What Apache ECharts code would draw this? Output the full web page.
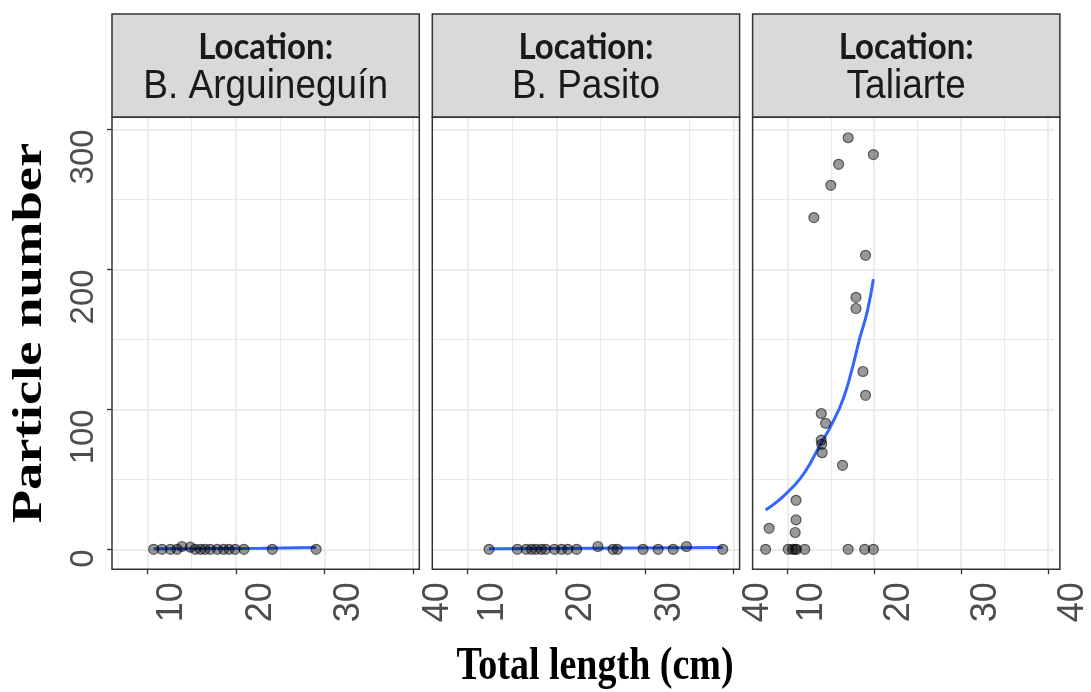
<!DOCTYPE html>
<html>
<head>
<meta charset="utf-8">
<script src="https://cdn.jsdelivr.net/npm/echarts@6/dist/echarts.min.js"></script>
<style>html,body{margin:0;padding:0;background:#fff;}#chart{width:1091px;height:692px;}</style>
</head>
<body>
<div id="chart"></div>
<script>
// ---- data ----
const locations = ['B. Arguineguín', 'B. Pasito', 'Taliarte'];
const stripLabel = 'Location:';
const xTitle = 'Total length (cm)';
const yTitle = 'Particle number';
const xTicks = [10, 20, 30, 40];
const xMinor = [15, 25, 35];
const yTicks = [0, 100, 200, 300];
const yMinor = [50, 150, 250];

const arguinX = [10.7, 11.65, 12.6, 13.35, 13.9, 14.85, 15.4, 16.0, 16.5, 17.1, 17.9, 18.6, 19.2, 19.9, 20.9, 24.1, 29.05];
const arguinY = [0, 0, 0, 0, 2, 1.5, 0, 0, 0, 0, 0, 0, 0, 0, 0, 0, 0];
const arguinFitX = [10.7, 17, 23, 29.05];
const arguinFitY = [0.3, 0.5, 0.8, 1.2];

const pasitoX = [12.4, 15.6, 16.6, 17.2, 17.7, 18.3, 18.8, 19.8, 20.6, 21.3, 22.3, 24.7, 26.4, 26.9, 29.8, 31.5, 33.2, 34.7, 38.8];
const pasitoY = [0, 0, 0, 0, 0, 0, 0, 0, 0, 0, 0, 2, 0, 0, 0, 0, 0, 2, 0];
const pasitoFitX = [12.4, 20, 28, 38.8];
const pasitoFitY = [0.3, 0.6, 0.9, 1.3];

const taliarteX = [17.0, 19.9, 15.9, 15.0, 13.05, 19.0, 17.9, 17.9, 18.7, 19.0, 13.9, 14.4, 13.9, 13.95, 14.0, 16.35, 11.0, 11.0, 7.9, 10.9,
                   7.5, 10.1, 10.6, 10.9, 11.05, 12.0, 17.0, 18.9, 19.9];
const taliarteY = [294, 282, 275, 260, 237, 210, 180, 172, 127, 110, 97, 90, 78, 75, 69, 60, 35, 21, 15, 12,
                   0, 0, 0, 0, 0, 0, 0, 0, 0];
const taliarteFitX = [7.5, 9, 10.4, 12, 13.9, 15, 16.4, 17.5, 18.3, 19.2, 19.9];
const taliarteFitY = [28, 35, 43, 55, 76, 88, 107, 130, 150, 170, 193];

const panelX = [arguinX, pasitoX, taliarteX];
const panelY = [arguinY, pasitoY, taliarteY];
const fitX = [arguinFitX, pasitoFitX, taliarteFitX];
const fitY = [arguinFitY, pasitoFitY, taliarteFitY];

// ---- layout ----
const X_MIN = 6.0, X_MAX = 40.7, Y_MIN = -14.3, Y_MAX = 308.6;
const P_LEFT = 112, P_W = 307.3, P_GAP = 13, P_TOP = 117.3, P_H = 452, S_TOP = 14;
const zip = (a, b) => a.map((v, i) => [v, b[i]]);

const grids = [], xAxes = [], yAxes = [], series = [], graphics = [];
locations.forEach((loc, i) => {
  const left = P_LEFT + i * (P_W + P_GAP);
  grids.push({ left: left, top: P_TOP, width: P_W, height: P_H, show: true, backgroundColor: '#fff', borderWidth: 0 });
  xAxes.push({
    type: 'value', gridIndex: i, min: X_MIN, max: X_MAX, position: 'bottom',
    axisLine: { show: false, onZero: false }, splitLine: { show: false }, minorTick: { show: false },
    axisTick: { show: true, customValues: xTicks, length: 5, lineStyle: { color: '#333', width: 1.3 } },
    axisLabel: { show: true, customValues: xTicks, rotate: 90, align: 'right', verticalAlign: 'top', margin: 13,
                 padding: [7, 0, 0, 0],
                 fontSize: 36, fontFamily: 'Liberation Sans', color: '#4d4d4d' }
  });
  yAxes.push({
    type: 'value', gridIndex: i, min: Y_MIN, max: Y_MAX, position: 'left',
    axisLine: { show: false, onZero: false }, splitLine: { show: false }, minorTick: { show: false },
    axisTick: { show: i === 0, customValues: yTicks, length: 5, lineStyle: { color: '#333', width: 1.3 } },
    axisLabel: { show: i === 0, customValues: yTicks, rotate: 90, align: 'right', margin: 12,
                 fontSize: 33, fontFamily: 'Liberation Sans', color: '#4d4d4d' }
  });
  const gl = [];
  const seg = (a, b, w) => gl.push([{ coord: a, lineStyle: { width: w } }, { coord: b }]);
  xTicks.forEach(v => seg([v, Y_MIN], [v, Y_MAX], 1.5));
  xMinor.forEach(v => seg([v, Y_MIN], [v, Y_MAX], 0.9));
  yTicks.forEach(v => seg([X_MIN, v], [X_MAX, v], 1.5));
  yMinor.forEach(v => seg([X_MIN, v], [X_MAX, v], 0.9));
  series.push({
    type: 'line', xAxisIndex: i, yAxisIndex: i, data: zip(fitX[i], fitY[i]), smooth: true,
    showSymbol: false, z: 3, lineStyle: { color: '#3366FF', width: 3 }
  });
  series.push({
    type: 'scatter', xAxisIndex: i, yAxisIndex: i, data: zip(panelX[i], panelY[i]), z: 4,
    symbolSize: 10, itemStyle: { color: 'rgba(0,0,0,0.5)', borderColor: 'rgba(0,0,0,0.7)', borderWidth: 1.2 },
    markLine: { z: 1, silent: true, symbol: ['none', 'none'], animation: false,
                label: { show: false }, lineStyle: { color: '#e6e6e6', type: 'solid' }, data: gl }
  });
  // strip
  graphics.push({ type: 'rect', z: 100, shape: { x: left, y: S_TOP, width: P_W, height: P_TOP - S_TOP },
                  style: { fill: '#d9d9d9', stroke: '#333', lineWidth: 1.5 } });
  graphics.push({ type: 'rect', z: 100, shape: { x: left, y: P_TOP, width: P_W, height: P_H },
                  style: { fill: 'none', stroke: '#333', lineWidth: 1.5 } });
  graphics.push({ type: 'text', z: 101, x: left + P_W / 2, y: 48, scaleY: 1.08,
                  style: { text: stripLabel, fontSize: 33, fontWeight: 'bold', fontFamily: 'Lato', fill: '#1a1a1a',
                           align: 'center', verticalAlign: 'middle', textAlign: 'center', textVerticalAlign: 'middle' } });
  graphics.push({ type: 'text', z: 101, x: left + P_W / 2, y: 87, scaleY: 1.1,
                  style: { text: loc, fontSize: 37, fontFamily: 'Liberation Sans', fill: '#1a1a1a',
                           align: 'center', verticalAlign: 'middle', textAlign: 'center', textVerticalAlign: 'middle' } });
});

graphics.push({ type: 'text', z: 101, x: 595, y: 667, scaleY: 1.2,
                style: { text: xTitle, fontSize: 38, fontWeight: 'bold', fontFamily: 'Liberation Serif', fill: '#000',
                         align: 'center', verticalAlign: 'middle', textAlign: 'center', textVerticalAlign: 'middle' } });
graphics.push({ type: 'text', z: 101, x: 30, y: 333, rotation: Math.PI / 2, scaleX: 1.3,
                style: { text: yTitle, fontSize: 42, fontWeight: 'bold', fontFamily: 'Liberation Serif', fill: '#000',
                         align: 'center', verticalAlign: 'middle', textAlign: 'center', textVerticalAlign: 'middle' } });

const chart = echarts.init(document.getElementById('chart'), null, { renderer: 'canvas' });
chart.setOption({
  animation: false,
  backgroundColor: '#fff',
  grid: grids, xAxis: xAxes, yAxis: yAxes, series: series, graphic: graphics
});
</script>
</body>
</html>
